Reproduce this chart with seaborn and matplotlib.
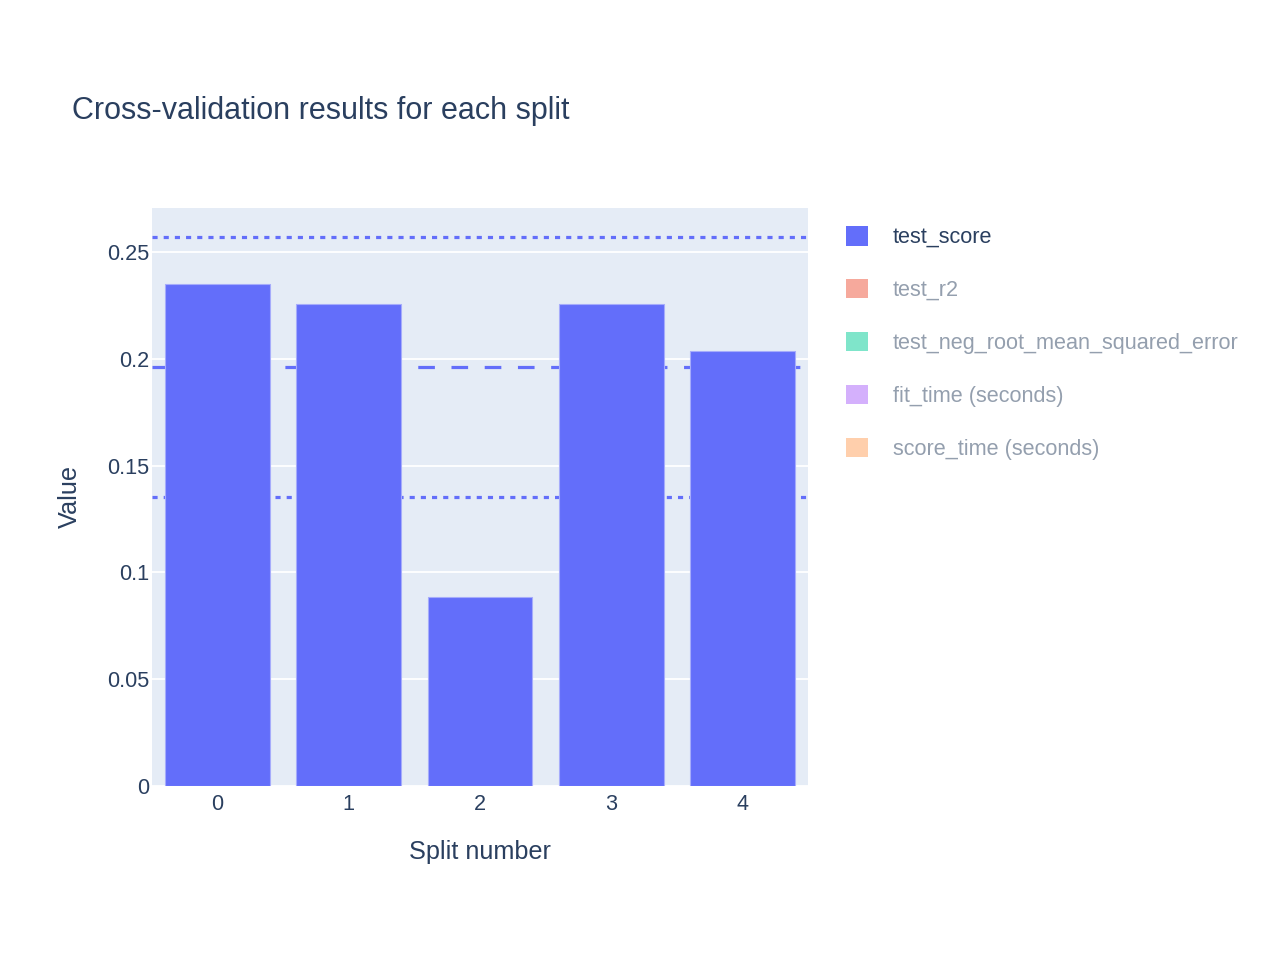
import pandas as pd
import seaborn as sns
import matplotlib.pyplot as plt
from matplotlib.patches import Patch

# data
splits = [0, 1, 2, 3, 4]
test_score = [0.2350, 0.2257, 0.0885, 0.2257, 0.2037]
mean_score = 0.1962
upper_score = 0.2570
lower_score = 0.1353
yticks = [0, 0.05, 0.1, 0.15, 0.2, 0.25]
ytick_labels = ['0', '0.05', '0.1', '0.15', '0.2', '0.25']
legend_names = ['test_score', 'test_r2', 'test_neg_root_mean_squared_error',
                'fit_time (seconds)', 'score_time (seconds)']
legend_colors = ['#636efa', '#EF553B', '#00cc96', '#ab63fa', '#FFA15A']

text_color = '#2a3f5f'
faded_text = '#949fae'

sns.set_theme(style='darkgrid')
plt.rcParams['font.family'] = ['Liberation Sans', 'DejaVu Sans']

df = pd.DataFrame({'split': splits, 'value': test_score})

fig = plt.figure(figsize=(12.8, 9.6), dpi=100)
ax = fig.add_axes([152 / 1280, 1 - 786 / 960, 656 / 1280, 578 / 960])
ax.set_facecolor('#E5ECF6')

# mean and mean +/- std lines, behind the bars
ax.axhline(upper_score, color='#636efa', lw=2.3, ls=(0, (1.6, 1.9)), zorder=1)
ax.axhline(mean_score, color='#636efa', lw=2.3, ls=(0, (5.2, 5.2)), zorder=1)
ax.axhline(lower_score, color='#636efa', lw=2.3, ls=(0, (1.6, 1.9)), zorder=1)

sns.barplot(data=df, x='split', y='value', color='#636efa', width=0.8,
            saturation=1, edgecolor='#a6acfb', linewidth=0.8, ax=ax, zorder=2)

ax.set_xlim(-0.5, 4.5)
ax.set_ylim(0, 0.2706)
ax.set_yticks(yticks)
ax.set_yticklabels(ytick_labels)
ax.grid(axis='y', color='white', lw=1.3, zorder=0)
ax.grid(axis='x', visible=False)
ax.set_axisbelow(True)
for s in ax.spines.values():
    s.set_visible(False)
ax.tick_params(axis='both', length=0, labelsize=15.6, colors=text_color)
ax.tick_params(axis='y', pad=2)
ax.tick_params(axis='x', pad=6)
ax.set_xlabel('Split number', fontsize=18.2, color=text_color, labelpad=18)
ax.set_ylabel('Value', fontsize=18.2, color=text_color, labelpad=18)

fig.text(72 / 1280, 1 - 111 / 960, 'Cross-validation results for each split',
         fontsize=22, color=text_color, va='center', ha='left')

handles = [Patch(facecolor=c, edgecolor='none', alpha=1 if i == 0 else 0.5)
           for i, c in enumerate(legend_colors)]
leg = fig.legend(handles, legend_names, loc='upper left',
                 bbox_to_anchor=(846 / 1280, 1 - 226 / 960), frameon=False,
                 fontsize=15.6, borderpad=0, borderaxespad=0,
                 handlelength=1.01, handleheight=1.01, handletextpad=1.15,
                 labelspacing=1.42)
for i, t in enumerate(leg.get_texts()):
    t.set_color(text_color if i == 0 else faded_text)

plt.savefig('out.png', dpi=100, facecolor='white')
